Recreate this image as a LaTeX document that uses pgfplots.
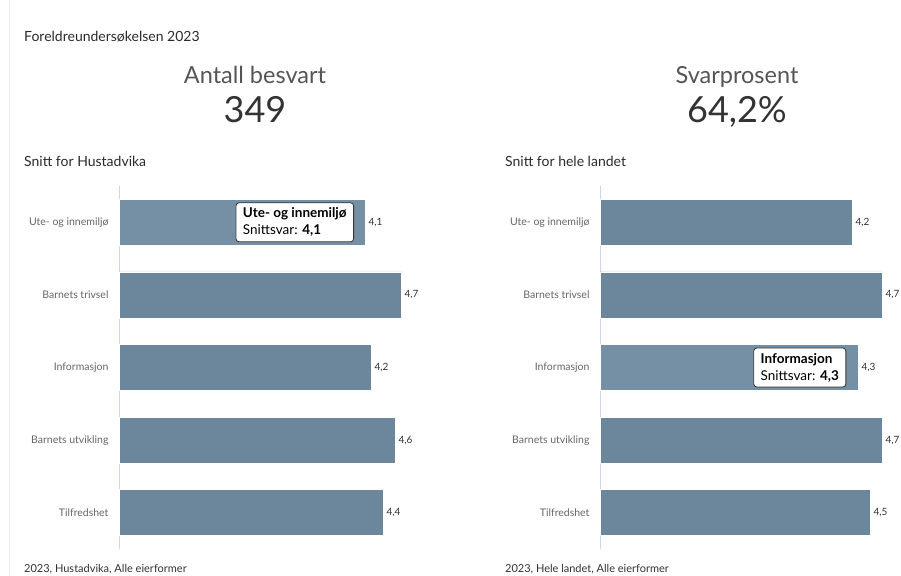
\documentclass[border=0pt]{standalone}
\usepackage{fontspec}
\setmainfont{Lato}
\usepackage{pgfplots}
\pgfplotsset{compat=1.18}
\usetikzlibrary{shadows}

\definecolor{barcol}{HTML}{6C879B}
\definecolor{barhov}{HTML}{7590A4}
\definecolor{axiscol}{HTML}{CCD6EB}
\definecolor{labgrey}{HTML}{666666}
\definecolor{txt}{HTML}{333333}
\definecolor{bigtxt}{HTML}{555555}

\tikzset{
  tip/.style={
    draw=txt, fill=white, rounded corners=3bp, line width=0.8bp,
    align=left, inner xsep=7bp, inner ysep=5bp,
    font=\fontsize{13.5bp}{17bp}\selectfont, text=black,
    drop shadow={opacity=0.15, shadow xshift=1bp, shadow yshift=-1bp},
  },
  head/.style={anchor=base west, inner sep=0pt, text=txt!85!black, font=\fontsize{14bp}{16bp}\selectfont},
  foot/.style={anchor=base west, inner sep=0pt, text=txt, font=\fontsize{11bp}{13bp}\selectfont},
}

\pgfplotsset{
  /pgf/number format/assume math mode=true,
  snitt/.style={
    scale only axis, width=300bp, height=363bp,
    anchor=north west,
    xmin=0, xmax=5, ymin=-0.5, ymax=4.5,
    y dir=reverse,
    axis lines*=left, hide x axis,
    y axis line style={draw=axiscol, line width=0.8bp},
    ytick={0,1,2,3,4},
    yticklabels={Ute- og innemiljø,Barnets trivsel,Informasjon,Barnets utvikling,Tilfredshet},
    major tick length=0pt,
    yticklabel style={font=\fontsize{10.5bp}{13bp}\selectfont, text=labgrey, xshift=-7bp},
    clip=false,
  },
  bars/.style={
    xbar, bar shift=0pt, bar width=0.634, draw=white, line width=0.5bp,
  },
  vals/.style={
    point meta=x,
    nodes near coords={\pgfmathprintnumber[fixed, fixed zerofill, precision=1, use comma]{\pgfplotspointmeta}},
    nodes near coords style={anchor=west, font=\fontsize{10bp}{12bp}\selectfont, text=txt},
  },
}

\pgfplotstableread{
cat val
0 4.1
1 4.7
2 4.2
3 4.6
4 4.4
}\hustadvika

\pgfplotstableread{
cat val
0 4.2
1 4.7
2 4.3
3 4.7
4 4.5
}\landet

\begin{document}
\begin{tikzpicture}
\clip (0,0) rectangle (901bp,-576bp);
\fill[white] (0,0) rectangle (901bp,-576bp);
\draw[draw=black!7, line width=0.8bp] (9bp,0) -- (9bp,-576bp);

\node[head] at (24bp,-41bp) {Foreldreundersøkelsen 2023};

\node[anchor=base, text=bigtxt, font=\fontsize{23.5bp}{26bp}\selectfont] at (255bp,-83bp) {Antall besvart};
\node[anchor=base, text=txt, font=\fontsize{36bp}{40bp}\selectfont] at (255bp,-122bp) {349};
\node[anchor=base, text=bigtxt, font=\fontsize{23.5bp}{26bp}\selectfont] at (737bp,-83bp) {Svarprosent};
\node[anchor=base, text=txt, font=\fontsize{36bp}{40bp}\selectfont] at (737bp,-122bp) {64,2\%};

\node[head] at (24bp,-166bp) {Snitt for Hustadvika};
\node[head] at (505bp,-166bp) {Snitt for hele landet};

\begin{axis}[snitt, at={(119bp,-186bp)}]
\addplot[bars, fill=barcol, vals] table[x=val, y=cat] {\hustadvika};
\addplot[bars, fill=barhov] coordinates {(4.1,0)};
\node[tip] at (axis cs:2.93,0) {\textbf{Ute- og innemiljø}\\Snittsvar: \textbf{4,1}};
\end{axis}

\begin{axis}[snitt, at={(600bp,-186bp)}]
\addplot[bars, fill=barcol, vals] table[x=val, y=cat] {\landet};
\addplot[bars, fill=barhov] coordinates {(4.3,2)};
\node[tip] at (axis cs:3.33,2) {\textbf{Informasjon}\\Snittsvar: \textbf{4,3}};
\end{axis}

\node[foot] at (24bp,-572bp) {2023, Hustadvika, Alle eierformer};
\node[foot] at (505bp,-572bp) {2023, Hele landet, Alle eierformer};
\end{tikzpicture}
\end{document}
